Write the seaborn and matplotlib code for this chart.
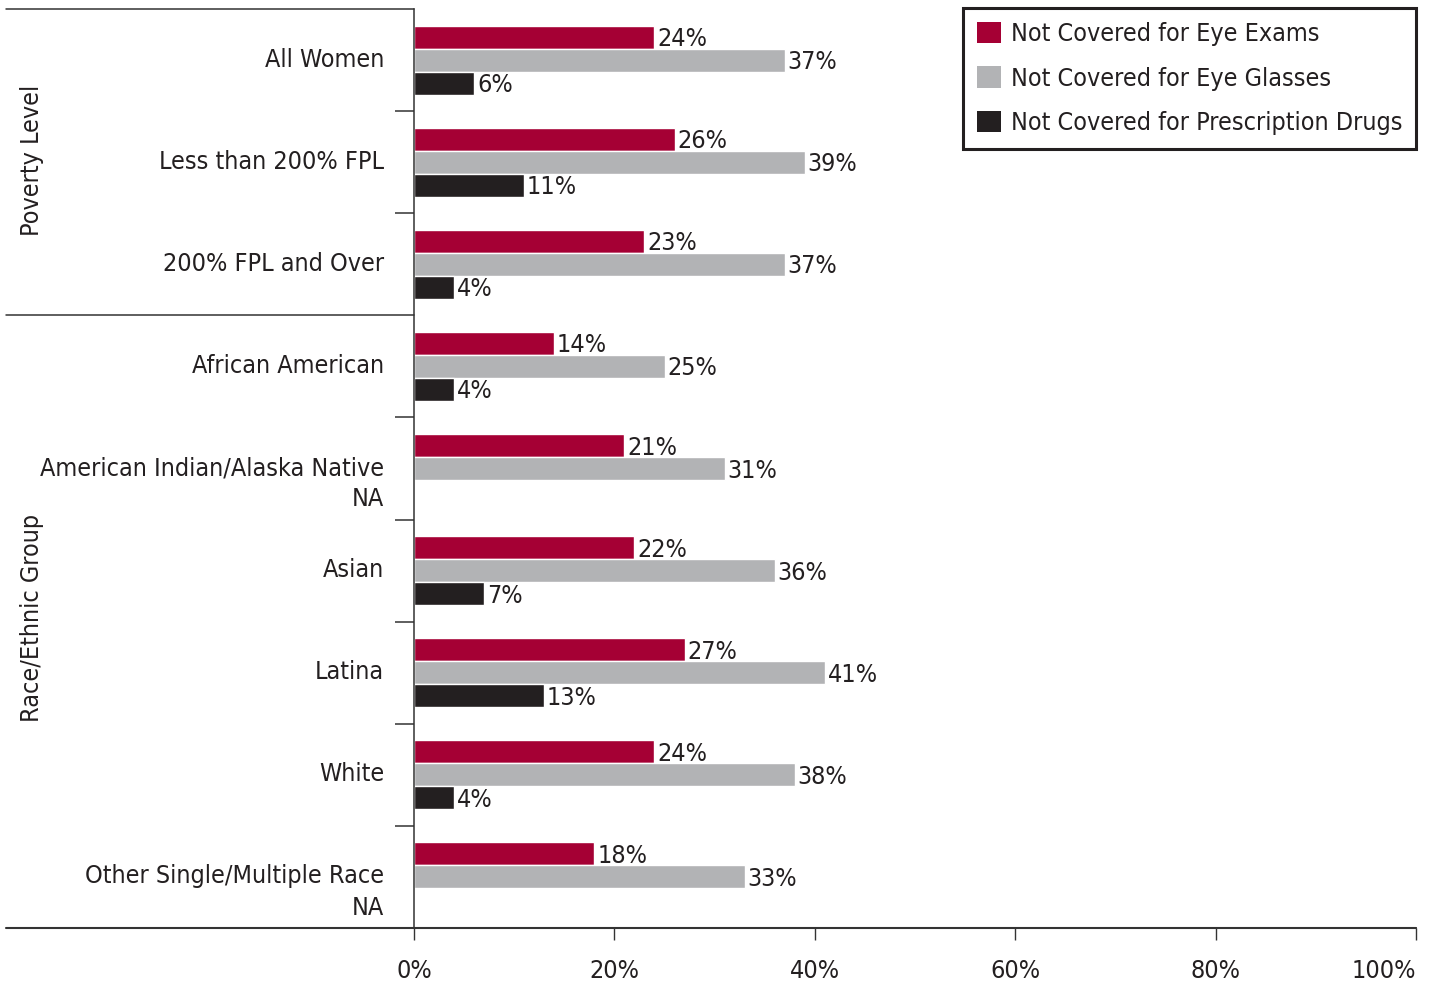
import matplotlib
matplotlib.use("Agg")
import matplotlib.pyplot as plt
import matplotlib.patches as mpatches
import matplotlib.transforms as mtransforms
from matplotlib import font_manager
import seaborn as sns
import pandas as pd
import numpy as np

# ---- data ----
categories = ["All Women", "Less than 200% FPL", "200% FPL and Over",
              "African American", "American Indian/Alaska Native", "Asian",
              "Latina", "White", "Other Single/Multiple Race"]
eye_exams = [24, 26, 23, 14, 21, 22, 27, 24, 18]
eye_glasses = [37, 39, 37, 25, 31, 36, 41, 38, 33]
rx_drugs = [6, 11, 4, 4, np.nan, 7, 13, 4, np.nan]
series_names = ["Not Covered for Eye Exams", "Not Covered for Eye Glasses",
                "Not Covered for Prescription Drugs"]
na_categories = ["American Indian/Alaska Native", "Other Single/Multiple Race"]
group_labels = ["Poverty Level", "Race/Ethnic Group"]
x_ticks = [0, 20, 40, 60, 80, 100]
x_tick_labels = ["0%", "20%", "40%", "60%", "80%", "100%"]

colors = ["#A50034", "#B2B3B5", "#231F20"]
text_color = "#231F20"
line_color = "#333333"

sns.set_theme(style="white")

# pick a condensed / narrow font if one is installed
chosen = None
cands = []
for f in font_manager.fontManager.ttflist:
    key = (f.name + " " + f.fname).lower()
    if ("condensed" in key or "narrow" in key or "cond" in key) and f.style == "normal":
        w = f.weight if isinstance(f.weight, int) else 400
        bad = any(k in key for k in ["bold", "light", "thin", "black", "semi", "extra", "medium", "italic", "oblique"])
        cands.append((bad, abs(w - 400), f))
cands.sort(key=lambda t: (t[0], t[1]))
if cands:
    chosen = cands[0][2]
if chosen is not None:
    plt.rcParams["font.family"] = [chosen.name, "DejaVu Sans"]
    plt.rcParams["font.stretch"] = chosen.stretch
    FS = 18
else:
    plt.rcParams["font.family"] = ["Roboto", "DejaVu Sans"]
    FS = 16

rows = []
for s_name, vals in zip(series_names, [eye_exams, eye_glasses, rx_drugs]):
    for c, v in zip(categories, vals):
        rows.append({"category": c, "value": v, "series": s_name})
df = pd.DataFrame(rows).dropna()

W, H = 1433, 986
fig = plt.figure(figsize=(W / 100, H / 100), dpi=100)
ax = fig.add_axes([414 / W, 1 - 928 / H, 1002 / W, 919 / H])

sns.barplot(data=df, y="category", x="value", hue="series", order=categories,
            hue_order=series_names, palette=colors, orient="h", width=0.675,
            errorbar=None, dodge=True, legend=False, ax=ax, saturation=1)

for cont in ax.containers:
    labels = [f"{b.get_width():.0f}%" for b in cont]
    anns = ax.bar_label(cont, labels=labels, padding=2, fontsize=FS, color=text_color)
    for a in anns:
        a.xyann = (2, -1.5)

ax.set_xlim(0, 100)
ax.set_ylim(8.5, -0.5)
ax.set_xlabel("")
ax.set_ylabel("")

ax.set_xticks(x_ticks)
ax.set_xticklabels(x_tick_labels, fontsize=FS, color=text_color)
xt = ax.get_xticklabels()
xt[-1].set_horizontalalignment("right")
ax.tick_params(axis="x", which="major", direction="out", length=8.6, width=1,
               color=line_color, pad=14, bottom=True)

ax.set_yticks(range(len(categories)))
ax.set_yticklabels(categories, fontsize=FS, color=text_color)
ax.tick_params(axis="y", which="major", length=0, pad=21.5, left=True)
shift_up = mtransforms.ScaledTranslation(0, 3 / 100, fig.dpi_scale_trans)
for lab in ax.get_yticklabels():
    lab.set_transform(lab.get_transform() + shift_up)
ax.set_yticks([0.5, 1.5, 3.5, 4.5, 5.5, 6.5, 7.5], minor=True)
ax.tick_params(axis="y", which="minor", direction="out", length=13.7, width=1.1,
               color=line_color, left=True)

for s in ["top", "right"]:
    ax.spines[s].set_visible(False)
for s in ["left", "bottom"]:
    ax.spines[s].set_color(line_color)
    ax.spines[s].set_linewidth(1.1)

# separators extending into label area
x_left = (6 - 414) / 1002
for yv in [-0.5, 2.5]:
    ax.axhline(yv, xmin=x_left, xmax=0, color=line_color, lw=1.1, clip_on=False)
ax.axhline(8.5, xmin=x_left, xmax=1, color=line_color, lw=1.5, clip_on=False)

# NA second lines
for c in na_categories:
    i = categories.index(c)
    ax.annotate("NA", xy=(0, i + 0.30), xycoords=("axes fraction", "data"),
                xytext=(-30, 0), textcoords="offset pixels", ha="right",
                va="center", fontsize=FS, color=text_color, annotation_clip=False)

# group labels
fig.text(32 / W, 1 - 160 / H, group_labels[0], rotation=90, ha="center",
         va="center", fontsize=FS, color=text_color)
fig.text(32 / W, 1 - 618 / H, group_labels[1], rotation=90, ha="center",
         va="center", fontsize=FS, color=text_color)

handles = [mpatches.Patch(facecolor=c, edgecolor="none") for c in colors]
leg = ax.legend(handles, series_names, loc="upper right", bbox_to_anchor=(1.0, 1.001),
                frameon=True, fancybox=False, framealpha=1, edgecolor=text_color,
                borderaxespad=0, handlelength=0.95, handleheight=0.95,
                handletextpad=0.4, labelspacing=0.8, borderpad=0.55,
                prop={"size": FS})
leg.get_frame().set_linewidth(2.2)
for t in leg.get_texts():
    t.set_color(text_color)

fig.savefig("out.png", dpi=100)
